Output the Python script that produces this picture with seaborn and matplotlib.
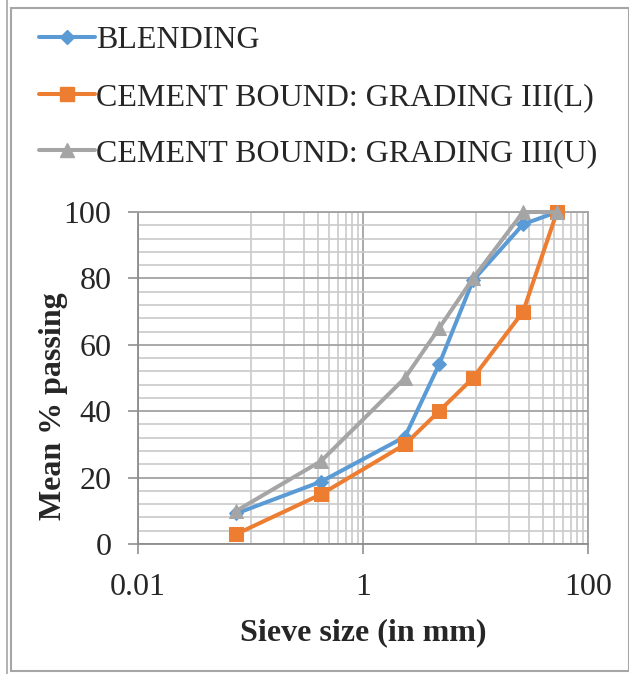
import matplotlib
matplotlib.use("Agg")
import matplotlib.pyplot as plt
import seaborn as sns
import pandas as pd
import numpy as np
from matplotlib.ticker import FixedLocator, NullFormatter, FixedFormatter
from matplotlib.patches import Rectangle
from matplotlib.lines import Line2D

# ---- data ----
sieve_mm = [0.075, 0.425, 2.36, 4.75, 9.5, 26.5, 53]
blending = [9.2, 18.8, 32.3, 54.1, 79.4, 96.3, 100]
grading_lower = [3, 15, 30, 40, 50, 70, 100]
grading_upper = [10, 25, 50, 65, 80, 100, 100]
series_names = ["BLENDING", "CEMENT BOUND: GRADING III(L)", "CEMENT BOUND: GRADING III(U)"]
x_major_ticks = [0.01, 1, 100]
x_tick_labels = ["0.01", "1", "100"]
y_ticks = [0, 20, 40, 60, 80, 100]

colors = ["#5B9BD5", "#ED7D31", "#A5A5A5"]
markers = ["D", "s", "^"]
msizes = [7.5, 10, 10.5]
lw = 2.9

sns.set_style("white")
plt.rcParams["font.family"] = ["Liberation Serif", "DejaVu Serif"]

W, H = 629, 674
fig = plt.figure(figsize=(W / 100, H / 100), dpi=100)
ax = fig.add_axes([138 / W, 1 - 544 / H, 450 / W, 332 / H])
ax.set_xscale("log")

frames = []
for name, vals in zip(series_names, [blending, grading_lower, grading_upper]):
    frames.append(pd.DataFrame({"x": sieve_mm, "y": vals, "series": name}))
df = pd.concat(frames, ignore_index=True)

for name, c, m, ms in zip(series_names, colors, markers, msizes):
    sub = df[df["series"] == name]
    sns.lineplot(data=sub, x="x", y="y", ax=ax, color=c, marker=m, markersize=ms,
                 markeredgecolor=c, markerfacecolor=c, linewidth=lw, sort=False,
                 legend=False, zorder=3, clip_on=False)

ax.set_xlim(0.01, 100)
ax.set_ylim(0, 100)

# x ticks
ax.xaxis.set_major_locator(FixedLocator(x_major_ticks))
ax.xaxis.set_major_formatter(FixedFormatter(x_tick_labels))
minor_x = [k * 0.1 for k in range(1, 10)] + [k * 10 for k in range(1, 10)]
ax.xaxis.set_minor_locator(FixedLocator(minor_x))
ax.xaxis.set_minor_formatter(NullFormatter())
ax.yaxis.set_major_locator(FixedLocator(y_ticks))
ax.yaxis.set_minor_locator(FixedLocator([v for v in range(0, 101, 4)]))

ax.tick_params(axis="both", which="major", direction="out", length=7, width=1.2,
               color="#909090", labelsize=23, pad=4, bottom=True, left=True)
ax.tick_params(axis="both", which="minor", length=0)
ax.tick_params(axis="x", which="major", pad=14)
ax.tick_params(axis="y", which="major", pad=12)

ax.grid(which="major", color="#A3A3A3", linewidth=1.3, zorder=0)
ax.grid(which="minor", color="#CACACA", linewidth=1.2, zorder=0)
ax.set_axisbelow(True)
for s in ax.spines.values():
    s.set_color("#A3A3A3")
    s.set_linewidth(1.3)
ax.spines["left"].set_color("#8C8C8C")
ax.spines["bottom"].set_color("#8C8C8C")

ax.set_xlabel("Sieve size (in mm)", fontsize=23, fontweight="bold")
ax.set_ylabel("Mean % passing", fontsize=23, fontweight="bold")
ax.xaxis.set_label_coords(0.5, -0.225)
ax.yaxis.set_label_coords(-0.155, 0.415)

# legend
handles = [Line2D([0], [0], color=c, marker=m, markersize=ms, linewidth=lw)
           for c, m, ms in zip(colors, markers, msizes)]
fig.legend(handles, series_names, loc="upper left",
           bbox_to_anchor=(39 / W, 1 - 26 / H), frameon=False, fontsize=23,
           handlelength=1.75, handletextpad=0.05, labelspacing=0.85,
           borderpad=0, borderaxespad=0)

# chart frame
fig.patches.append(Rectangle((11 / W, 1 - 671 / H), 618 / W, 663 / H,
                             transform=fig.transFigure, fill=False,
                             edgecolor="#A6A6A6", linewidth=1.5))
fig.add_artist(Line2D([7 / W, 7 / W], [0, 1], transform=fig.transFigure,
                      color="#A6A6A6", linewidth=1.2))

fig.savefig("out.png", dpi=100)
